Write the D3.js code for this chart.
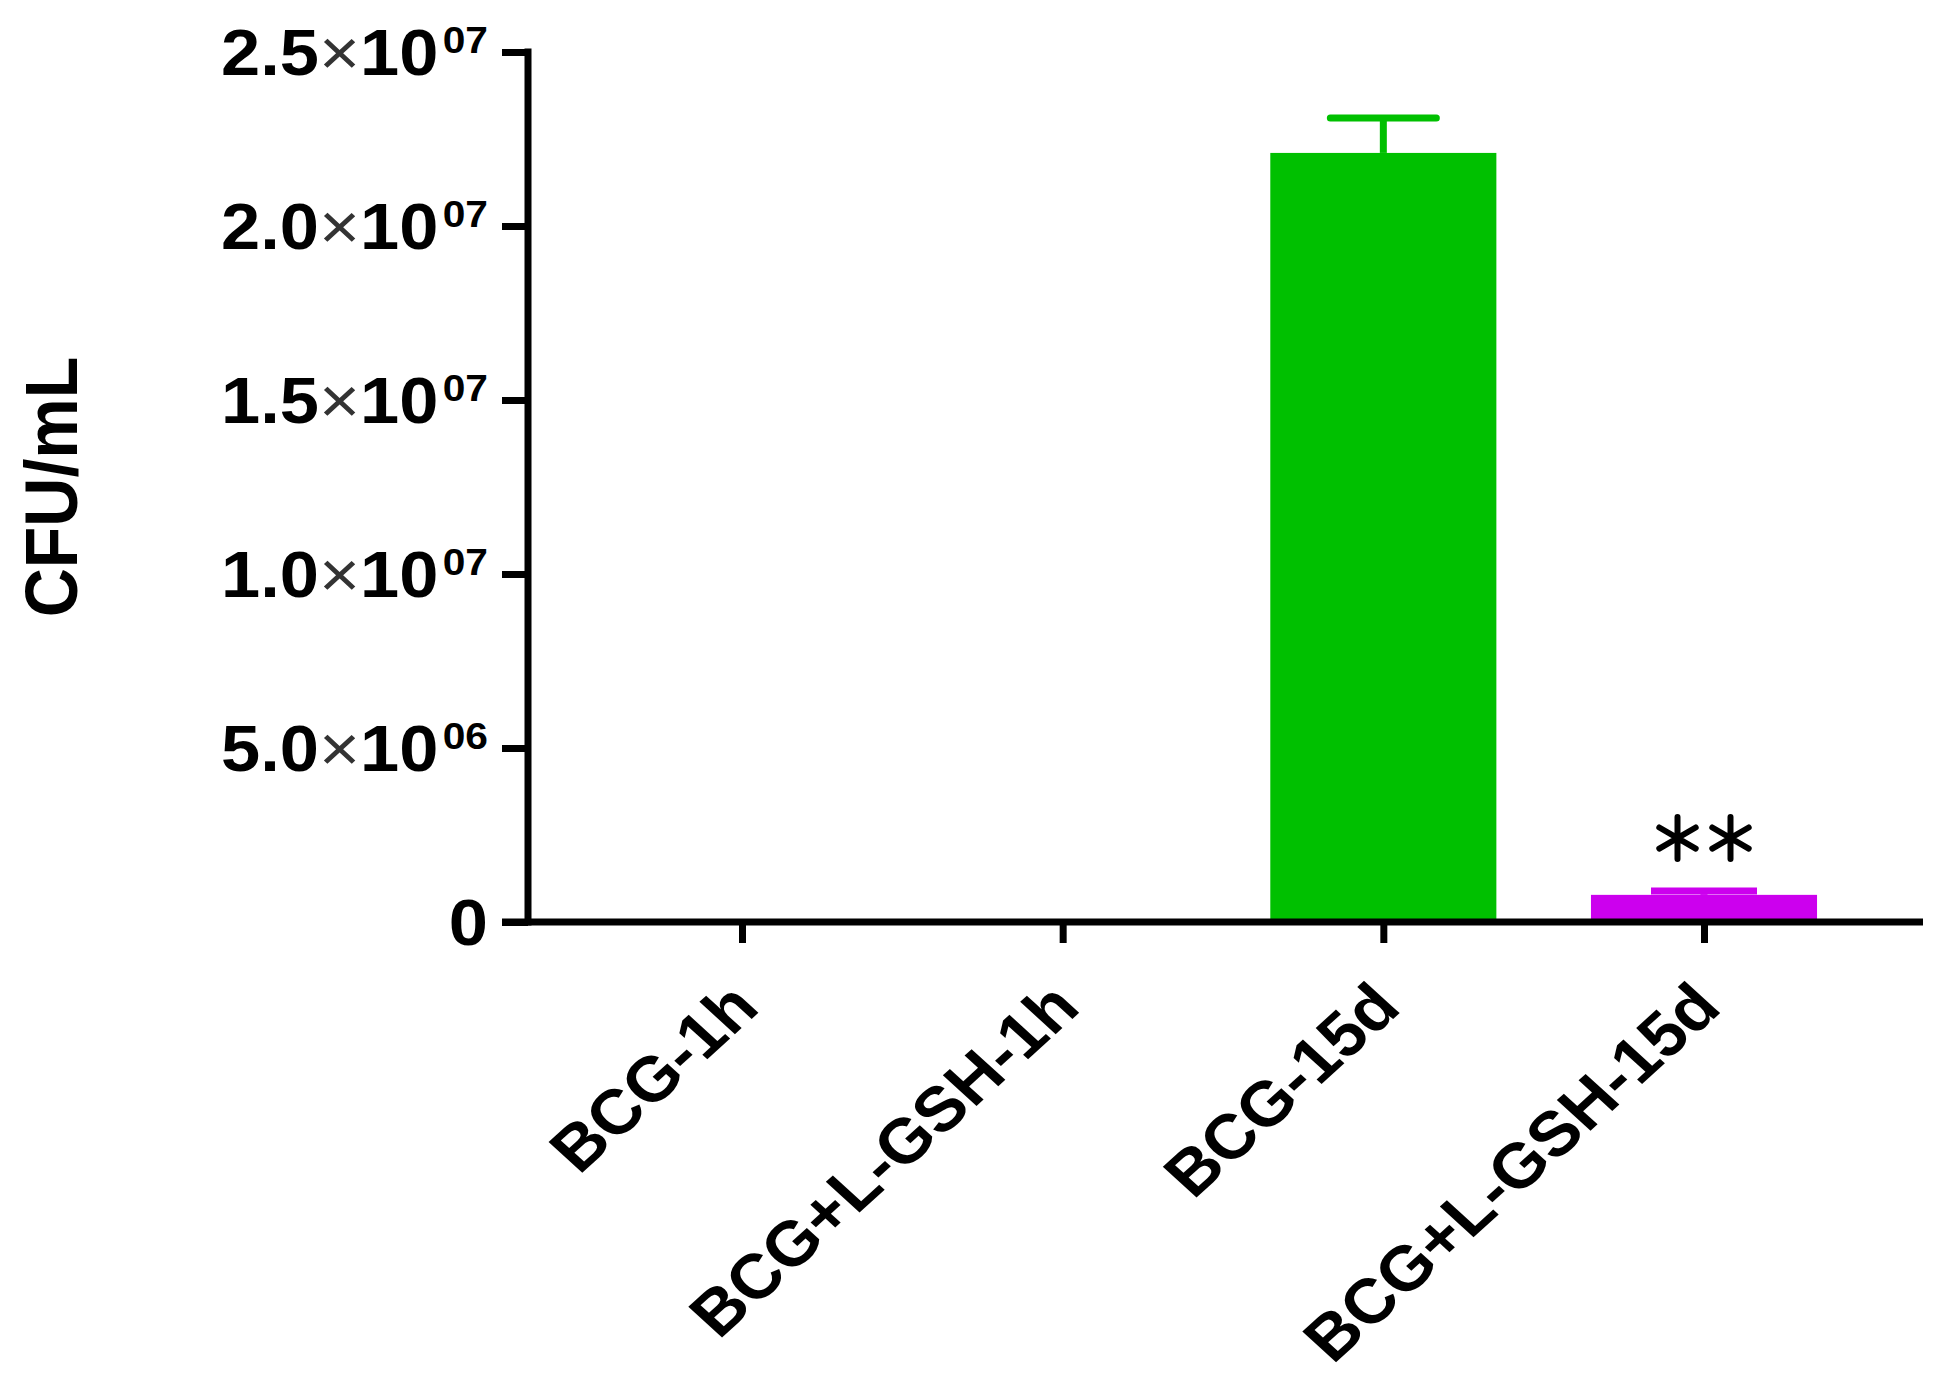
<!DOCTYPE html>
<html>
<head>
<meta charset="utf-8">
<script src="https://cdn.jsdelivr.net/npm/d3@7"></script>
<style>
  html, body { margin: 0; padding: 0; background: #fff; }
  svg { display: block; }
  text { font-family: "Liberation Sans", Arial, sans-serif; font-weight: bold; fill: #000; }
</style>
</head>
<body>
<script>
// ---- data ----
const categories = ["BCG-1h", "BCG+L-GSH-1h", "BCG-15d", "BCG+L-GSH-15d"];
const means = [6e4, 5e4, 2.21e7, 7.8e5];
const sems = [0, 0, 1.0e6, 1.1e5];
const significance = ["", "", "", "**"];
const yTicks = [0, 5e6, 1e7, 1.5e7, 2e7, 2.5e7];
const yTitle = "CFU/mL";

// ---- layout ----
const W = 1939, H = 1382;
const axisX = 528, axisY = 922, topY = 52;
const sx = 1.1; // horizontal text stretch
const svg = d3.select("body").append("svg").attr("width", W).attr("height", H);
svg.append("rect").attr("width", W).attr("height", H).attr("fill", "#fff");

const x = d3.scalePoint().domain(categories).range([742, 1704]);
const step = x.step();
const barW = step * 0.705;
const y = d3.scaleLinear().domain([0, 2.5e7]).range([axisY, topY]);
const color = d3.scaleOrdinal().domain(categories).range(["#000000", "#000000", "#00C000", "#CC00EE"]);

const data = categories.map((c, i) => ({ c, m: means[i], e: sems[i], s: significance[i] }));

// bars
svg.append("g").selectAll("rect").data(data).join("rect")
  .attr("x", d => x(d.c) - barW / 2)
  .attr("width", barW)
  .attr("y", d => y(d.m))
  .attr("height", d => y(0) - y(d.m))
  .attr("fill", d => color(d.c));

// error bars
const eg = svg.append("g").selectAll("g").data(data.filter(d => d.e > 0)).join("g");
eg.append("line")
  .attr("x1", d => x(d.c)).attr("x2", d => x(d.c))
  .attr("y1", d => y(d.m)).attr("y2", d => y(d.m + d.e))
  .attr("stroke", d => color(d.c)).attr("stroke-width", 7);
eg.append("line")
  .attr("x1", d => x(d.c) - 53).attr("x2", d => x(d.c) + 53)
  .attr("y1", d => y(d.m + d.e)).attr("y2", d => y(d.m + d.e))
  .attr("stroke", d => color(d.c)).attr("stroke-width", 7)
  .attr("stroke-linecap", d => d.m > 5e6 ? "round" : "butt");

// significance asterisks
const star = d3.symbol(d3.symbolAsterisk, 1250);
data.filter(d => d.s).forEach(d => {
  const n = d.s.length;
  for (let k = 0; k < n; k++) {
    svg.append("path")
      .attr("d", star())
      .attr("transform", `translate(${x(d.c) + (k - (n - 1) / 2) * 53},${y(d.m + d.e) - 53})`)
      .attr("fill", "none").attr("stroke", "#000").attr("stroke-width", 6).attr("stroke-linecap", "round");
  }
});

// y axis
const yAxis = d3.axisLeft(y).tickValues(yTicks).tickSize(26).tickFormat("");
const yg = svg.append("g").attr("transform", `translate(${axisX},0)`).call(yAxis);
yg.select(".domain").remove();
yg.selectAll(".tick line").attr("stroke", "#000").attr("stroke-width", 7);
svg.append("line").attr("x1", axisX).attr("x2", axisX).attr("y1", y(2.5e7)).attr("y2", y(0))
  .attr("stroke", "#000").attr("stroke-width", 7).attr("stroke-linecap", "square");

// y tick labels
const F = 64;
yg.selectAll(".tick").each(function (v) {
  const t = d3.select(this).append("text")
    .attr("text-anchor", "end")
    .attr("font-size", F)
    .attr("transform", `translate(-40,${0.358 * F}) scale(${sx},1)`);
  if (v === 0) { t.text("0"); return; }
  const exp = Math.floor(Math.log10(v));
  const mant = v / Math.pow(10, exp);
  t.append("tspan").text(mant.toFixed(1));
  t.append("tspan").attr("font-weight", "normal").attr("fill", "#333").text("×");
  t.append("tspan").text("10");
  t.append("tspan").attr("font-size", 37).attr("dx", 4).attr("dy", -22).text(String(exp).padStart(2, "0"));
});

// x axis
const xAxis = d3.axisBottom(x).tickSize(21).tickFormat("");
const xg = svg.append("g").attr("transform", `translate(0,${axisY})`).call(xAxis);
xg.select(".domain").remove();
xg.selectAll(".tick line").attr("stroke", "#000").attr("stroke-width", 7);
svg.append("line").attr("x1", axisX - 26).attr("x2", 1923).attr("y1", axisY).attr("y2", axisY)
  .attr("stroke", "#000").attr("stroke-width", 7);

xg.selectAll(".tick").append("text")
  .attr("text-anchor", "end")
  .attr("font-size", 63)
  .attr("transform", `translate(19,88) scale(${sx},1) rotate(-45)`)
  .text(d => d);

// y title
svg.append("text")
  .attr("text-anchor", "middle")
  .attr("font-size", 68)
  .attr("transform", `translate(77,${(y(0) + y(2.5e7)) / 2}) scale(${sx},1) rotate(-90)`)
  .text(yTitle);
</script>
</body>
</html>
